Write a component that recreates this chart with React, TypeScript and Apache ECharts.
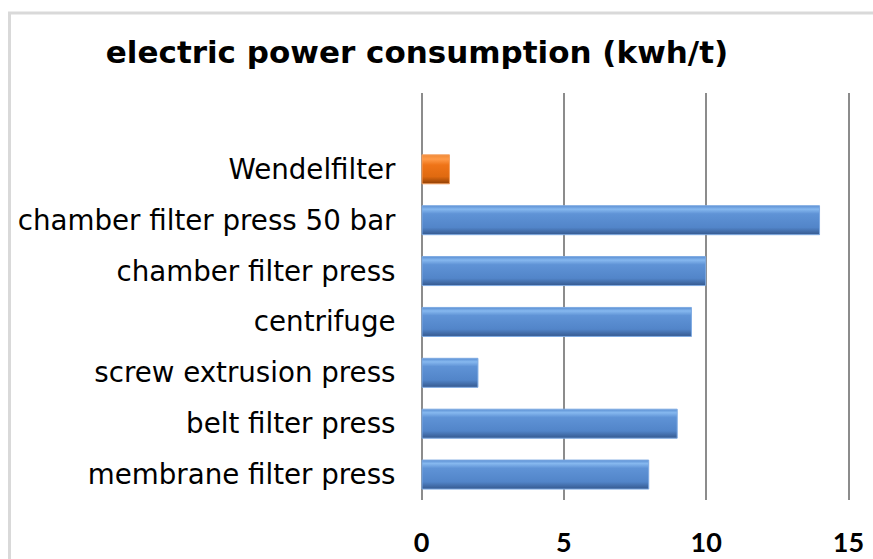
import React, { useEffect, useRef } from "react";
import * as echarts from "echarts";

const categories = [
  "membrane filter press",
  "belt filter press",
  "screw extrusion press",
  "centrifuge",
  "chamber filter press",
  "chamber filter press 50 bar",
  "Wendelfilter",
  "",
];
const values: (number | null)[] = [8, 9, 2, 9.5, 10, 14, 1, null];
const highlighted = ["Wendelfilter"];
const xTicks = { min: 0, max: 15, interval: 5 };
const titleText = "electric power consumption (kwh/t)";

const blueFill = new echarts.graphic.LinearGradient(0, 0, 0, 1, [
  { offset: 0, color: "#5a8ed2" },
  { offset: 0.12, color: "#86b8ef" },
  { offset: 0.28, color: "#5f93d6" },
  { offset: 0.75, color: "#5285c9" },
  { offset: 1, color: "#35598f" },
]);
const orangeFill = new echarts.graphic.LinearGradient(0, 0, 0, 1, [
  { offset: 0, color: "#f08a36" },
  { offset: 0.15, color: "#ff9a48" },
  { offset: 0.35, color: "#ef7418" },
  { offset: 0.75, color: "#e06a10" },
  { offset: 1, color: "#8f3f05" },
]);

export default function App() {
  const ref = useRef<HTMLDivElement>(null);
  useEffect(() => {
    if (!ref.current) return;
    const chart = echarts.init(ref.current, undefined, { renderer: "svg" });
    chart.setOption({
      animation: false,
      backgroundColor: "#ffffff",
      graphic: [
        {
          type: "rect",
          shape: { x: 9.5, y: 13, width: 1000, height: 700 },
          style: { fill: "none", stroke: "#d9d9d9", lineWidth: 3 },
          z: -10,
        },
      ],
      title: {
        text: titleText,
        left: 412,
        textAlign: "center",
        top: 31,
        textStyle: {
          fontFamily: "DejaVu Sans",
          fontWeight: "bold",
          fontSize: 31,
          color: "#000",
        },
      },
      grid: { left: 421.5, right: 24.5, top: 93, bottom: 59, containLabel: false },
      xAxis: {
        type: "value",
        min: xTicks.min,
        max: xTicks.max,
        interval: xTicks.interval,
        axisLine: { show: false },
        axisTick: { show: false },
        splitLine: { show: true, lineStyle: { color: "#8c8c8c", width: 2 } },
        axisLabel: {
          margin: 28,
          fontFamily: "Lato",
          fontWeight: "bold",
          fontSize: 27,
          color: "#000",
        },
      },
      yAxis: {
        type: "category",
        data: categories,
        axisLine: { show: false },
        axisTick: { show: false },
        axisLabel: {
          margin: 26,
          fontFamily: "DejaVu Sans",
          fontSize: 27.7,
          color: "#000",
        },
      },
      series: [
        {
          type: "bar",
          barWidth: 30,
          data: values.map((v, i) => ({
            value: v,
            itemStyle: {
              color: highlighted.includes(categories[i]) ? orangeFill : blueFill,
              borderColor: highlighted.includes(categories[i]) ? "#f5a060" : "#7eaae2",
              borderWidth: 1,
            },
          })),
        },
      ],
    });
    return () => chart.dispose();
  }, []);
  return (
    <div
      ref={ref}
      style={{ position: "fixed", left: 0, top: 0, width: 873, height: 559 }}
    />
  );
}
